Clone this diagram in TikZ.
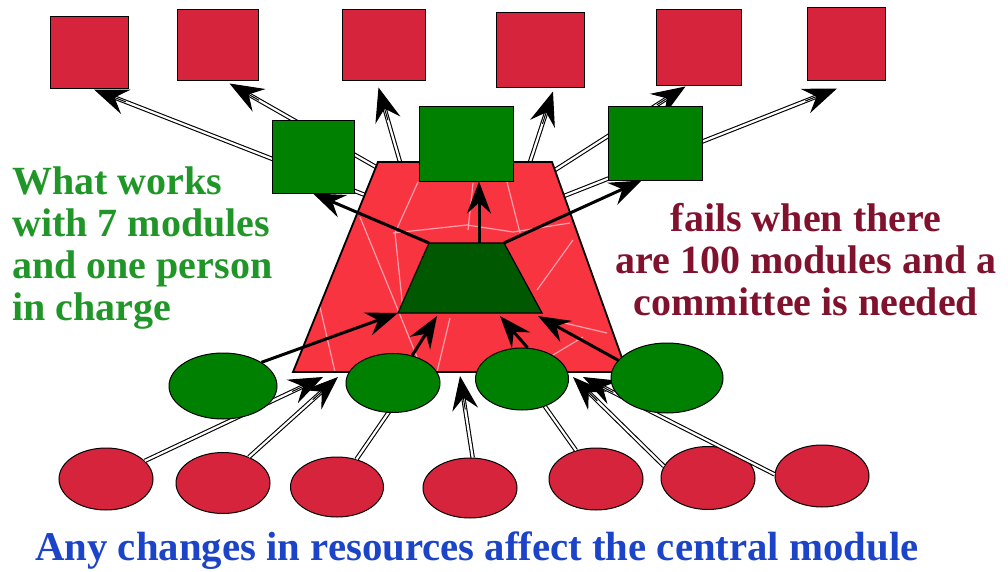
\documentclass[tikz,border=0pt]{standalone}
\usepackage{fontspec}
\setmainfont{Liberation Serif}
\usetikzlibrary{arrows.meta,shapes.geometric,calc}
\definecolor{modred}{RGB}{214,36,60}
\definecolor{cenred}{RGB}{248,52,64}
\definecolor{modgreen}{RGB}{0,128,0}
\definecolor{coregreen}{RGB}{0,88,0}
\definecolor{crackpink}{RGB}{255,160,175}
\definecolor{txtgreen}{RGB}{32,150,40}
\definecolor{txtred}{RGB}{128,18,45}
\definecolor{txtblue}{RGB}{28,68,200}
\newcommand{\dblarrow}[2]{\draw[dbl] (#1) -- (#2); \draw[dtip] ($(#2)!34pt!(#1)$) -- (#2);}

\begin{document}
\begin{tikzpicture}[x=1pt,y=-1pt,
 rbox/.style 2 args={draw,line width=1pt,fill=modred,minimum width=#1,minimum height=#2,inner sep=0pt},
 gbox/.style 2 args={draw,line width=1pt,fill=modgreen,minimum width=#1,minimum height=#2,inner sep=0pt},
 rblob/.style 2 args={ellipse,draw,line width=1pt,fill=modred,minimum width=#1,minimum height=#2,inner sep=0pt},
 gblob/.style 2 args={ellipse,draw,line width=1pt,fill=modgreen,minimum width=#1,minimum height=#2,inner sep=0pt},
 dbl/.style={draw=black,line width=1.1pt,double=white,double distance=2.2pt,shorten >=20pt},
 dtip/.style={line width=1pt,-{Stealth[length=34pt,width=26pt,inset=12pt]}},
 arr/.style={line width=3pt,-{Stealth[length=32pt,width=24pt,inset=11pt]}},
 crack/.style={draw=crackpink,line width=1.2pt},
 note/.style={font=\fontsize{40}{42}\selectfont\bfseries,inner sep=0pt}]
\useasboundingbox (0,0) rectangle (1008,572);
\node[rbox={78pt}{72pt}] (mod1) at (89,53) {};
\node[rbox={81pt}{71pt}] (mod2) at (217.5,45.5) {};
\node[rbox={83pt}{71pt}] (mod3) at (383.5,45.5) {};
\node[rbox={88pt}{75pt}] (mod4) at (540,50.5) {};
\node[rbox={85pt}{76pt}] (mod5) at (698.5,48) {};
\node[rbox={78pt}{73pt}] (mod6) at (846,44.5) {};
\node[rblob={94pt}{62pt}] (res1) at (106,479) {};
\node[rblob={94pt}{61pt}] (res2) at (223,483) {};
\node[rblob={93pt}{60pt}] (res3) at (337,487) {};
\node[rblob={94pt}{60pt}] (res4) at (470,488) {};
\node[rblob={94pt}{62pt}] (res5) at (596,479) {};
\node[rblob={94pt}{63pt}] (res6) at (708,478) {};
\node[rblob={94pt}{62pt}] (res7) at (822,476) {};
\coordinate (cBL) at (293,372); \coordinate (cTL) at (378,162);
\coordinate (cTR) at (552,162); \coordinate (cBR) at (627,372);
\coordinate (kBL) at (398,313); \coordinate (kTL) at (429,243);
\coordinate (kTR) at (504,243); \coordinate (kBR) at (542,313);
\coordinate (o1) at (365,195); \coordinate (o2) at (376,167);
\coordinate (o3) at (400,162); \coordinate (o4) at (530,162);
\coordinate (o5) at (555,170); \coordinate (o6) at (564,196);
\coordinate (t1) at ([xshift=5pt]mod1.south); \coordinate (t2) at ([xshift=12pt,yshift=-2pt]mod2.south);
\coordinate (t3) at ([xshift=-5pt,yshift=-6pt]mod3.south); \coordinate (t4) at ([xshift=13pt,yshift=-3pt]mod4.south);
\coordinate (t5) at ([xshift=-13pt]mod5.south); \coordinate (t6) at ([xshift=-9pt,yshift=-7pt]mod6.south);
\coordinate (b1) at (323,377); \coordinate (b2) at (338,377); \coordinate (b3) at (415,374);
\coordinate (b4) at (460,376); \coordinate (b5) at (522,374); \coordinate (b6) at (573,377);
\coordinate (b7) at (583,377);
\dblarrow{o1}{t1} \dblarrow{o2}{t2} \dblarrow{o3}{t3}
\dblarrow{o4}{t4} \dblarrow{o5}{t5} \dblarrow{o6}{t6}
\dblarrow{res1.25}{b1} \dblarrow{res2.45}{b2} \dblarrow{res3.55}{b3} \dblarrow{res4.85}{b4}
\dblarrow{res5.125}{b5} \dblarrow{res6.165}{b6} \dblarrow{res7.178}{b7}
\fill[cenred] (cBL) -- (cTL) -- (cTR) -- (cBR) -- cycle;
\draw[crack] (418,182) -- (395,233) -- (403,310) (360,217) -- (398,310) -- (423,372)
 (393,233) -- (467,225) -- (513,232) -- (570,223) (473,183) -- (468,230)
 (507,182) -- (520,233) (573,240) -- (537,290) (320,307) -- (335,372)
 (450,318) -- (437,372) (543,318) -- (607,333) (583,337) -- (553,355);
\draw[line width=1.8pt] (cBL) -- (cTL) -- (cTR) -- (cBR) -- cycle;
\filldraw[fill=coregreen,line width=1.2pt] (kBL) -- (kTL) -- (kTR) -- (kBR) -- cycle;
\node[gbox={82pt}{72pt}] (sub1) at (313,157) {};
\node[gbox={94pt}{74pt}] (sub2) at (466,144) {};
\node[gbox={94pt}{73pt}] (sub3) at (655,143.5) {};
\node[gblob={108pt}{66pt}] (grp1) at (223,386) {};
\node[gblob={94pt}{59pt}] (grp2) at (393,383) {};
\node[gblob={93pt}{62pt}] (grp3) at (522,379) {};
\node[gblob={112pt}{70pt}] (grp4) at (667,378) {};
\coordinate (kT) at (479,243);
\coordinate (k2) at (437,316); \coordinate (k3) at (500,316); \coordinate (k4) at (538,316);
\draw[arr] (kTL) -- (sub1.south);
\draw[arr] (kT) -- (kT |- sub2.south);
\draw[arr] (kTR) -- (sub3.250);
\draw[arr] (grp1.north east) -- (kBL);
\draw[arr] (grp2.55) -- (k2);
\draw[arr] (grp3.80) -- (k3);
\draw[arr] (grp4.160) -- (k4);
\node[note,text=txtgreen,align=left,anchor=north west] (works) at (12,167) {What works\\with 7 modules\\and one person\\in charge};
\node[note,text=txtred,align=center,anchor=north] (fails) at (806,203) {fails when there\\are 100 modules and a\\committee is needed};
\node[note,text=txtblue,anchor=base,font=\fontsize{40.8}{42}\selectfont\bfseries] (changes) at (477,560) {Any changes in resources affect the central module};
\end{tikzpicture}
\end{document}
